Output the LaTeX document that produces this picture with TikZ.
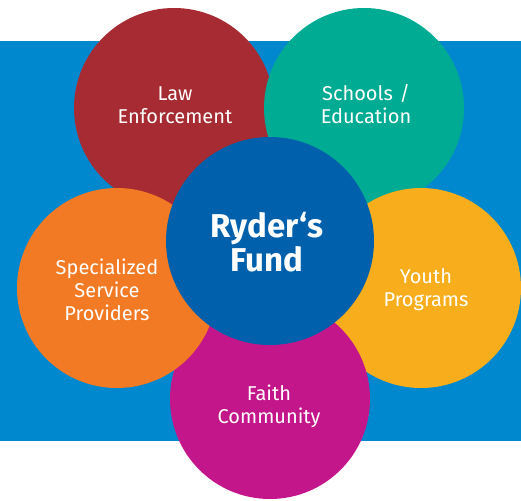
\documentclass[tikz,border=0pt]{standalone}
\usepackage{fontspec}
\setmainfont{Fira Sans}
\definecolor{bgblue}{HTML}{0088CF}
\definecolor{cred}{HTML}{A62B32}
\definecolor{cteal}{HTML}{00AB94}
\definecolor{corange}{HTML}{F37A24}
\definecolor{cyellow}{HTML}{F8AE1C}
\definecolor{cmagenta}{HTML}{C3168A}
\definecolor{cblue}{HTML}{0060AC}
\begin{document}
\begin{tikzpicture}[x=1pt,y=-1pt,
  bubble/.style={circle,minimum size=200pt,inner sep=0pt},
  hub/.style={circle,minimum size=208pt,inner sep=0pt,fill=cblue},
  lbl/.style={anchor=base,inner sep=0pt,text=white,align=center,text width=170pt,font=\fontsize{20}{23}\selectfont},
  hublbl/.style={anchor=base,inner sep=0pt,text=white,align=center,text width=180pt,font=\fontsize{33}{34}\selectfont\bfseries}]
\useasboundingbox (0,0) rectangle (521,500);
\fill[bgblue] (0,41) rectangle (521,441);
\node[bubble,fill=cred] (law) at (174,108) {};
\node[bubble,fill=cteal] (school) at (364,108) {};
\node[bubble,fill=cyellow] (youth) at (421,288) {};
\node[bubble,fill=cmagenta] (faith) at (270,399) {};
\node[bubble,fill=corange] (spec) at (117,288) {};
\node[hub] (fund) at (270,241) {};
\node[lbl] (lawt) at (175,100) {Law\\Enforcement};
\node[lbl] (schoolt) at (366,100) {Schools /\\Education};
\node[lbl] (spect) at (107,274) {Specialized\\Service\\Providers};
\node[lbl] (youtht) at (426,283) {Youth\\Programs};
\node[lbl] (faitht) at (269,400) {Faith\\Community};
\node[hublbl] (fundt) at (267,237) {Ryder\kern1pt‘s\\Fund};
\end{tikzpicture}
\end{document}
